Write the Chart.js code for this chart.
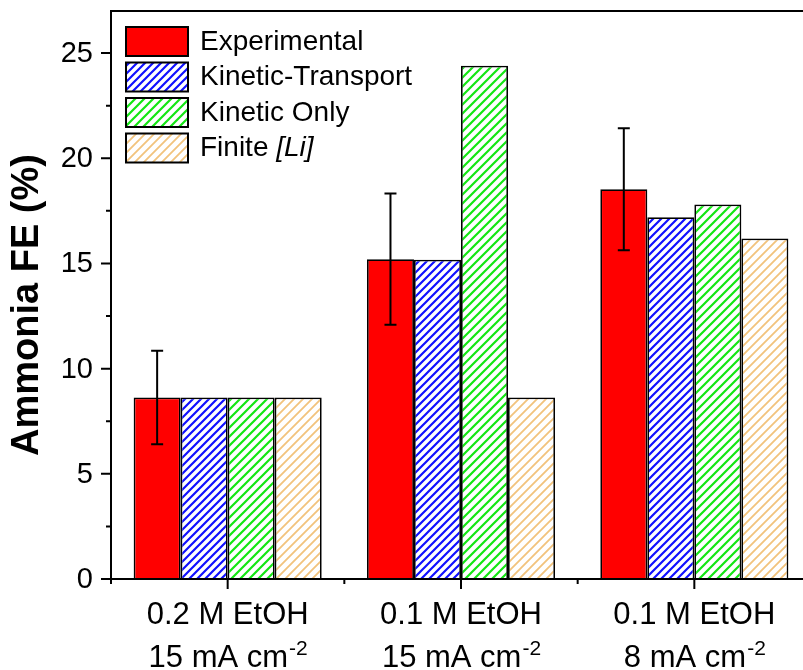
<!DOCTYPE html>
<html>
<head>
<meta charset="utf-8">
<script src="https://cdn.jsdelivr.net/npm/chart.js@4/dist/chart.umd.min.js"></script>
<style>
  html, body { margin: 0; padding: 0; background: #fff; overflow: hidden; }
  #wrap { width: 803px; height: 670px; overflow: hidden; }
</style>
</head>
<body>
<div id="wrap"><canvas id="fe" width="830" height="670"></canvas></div>
<script>
// conditions (two-line category labels, second line gets a "-2" superscript)
const conditionLabels = ['0.2 M EtOH', '0.1 M EtOH', '0.1 M EtOH'];
const currentLabels = ['15 mA cm', '15 mA cm', '8 mA cm'];
const currentSup = '-2';

const seriesNames = ['Experimental', 'Kinetic-Transport', 'Kinetic Only', 'Finite [Li]'];
const experimental = [8.63, 15.2, 18.53];
const experimentalErr = [2.22, 3.12, 2.9];
const kineticTransport = [8.63, 15.17, 17.2];
const kineticOnly = [8.63, 24.4, 17.8];
const finiteLi = [8.63, 8.63, 16.18];

const yTicksMajor = [0, 5, 10, 15, 20, 25];

const FONT = '"Liberation Sans", Arial, Helvetica, sans-serif';

function hatch(color, size, width) {
  const c = document.createElement('canvas');
  c.width = size; c.height = size;
  const g = c.getContext('2d');
  g.fillStyle = '#fff';
  g.fillRect(0, 0, size, size);
  g.strokeStyle = color;
  g.lineWidth = width;
  g.beginPath();
  g.moveTo(-1, size + 1); g.lineTo(size + 1, -1);
  g.moveTo(-size / 2 - 1, size / 2 + 1); g.lineTo(size / 2 + 1, -size / 2 - 1);
  g.moveTo(size / 2 - 1, size * 1.5 + 1); g.lineTo(size * 1.5 + 1, size / 2 - 1);
  g.stroke();
  return g.createPattern(c, 'repeat');
}

const fills = [
  '#ff0000',
  hatch('#1010ff', 8, 2.2),
  hatch('#14e614', 9, 2.2),
  hatch('#f2c37c', 9, 1.8),
];

// frame, outward ticks (major / minor), tick labels, legend
const axesDeco = {
  id: 'axesDeco',
  afterDraw(chart) {
    const { ctx, chartArea: a, scales: { x, y } } = chart;
    ctx.save();
    ctx.strokeStyle = '#000';
    ctx.lineWidth = 2;
    ctx.beginPath();
    ctx.moveTo(a.right, a.top); ctx.lineTo(a.left, a.top);
    ctx.lineTo(a.left, a.bottom); ctx.lineTo(a.right, a.bottom);
    ctx.stroke();
    ctx.beginPath();
    for (let v = 0; v <= y.max; v += 2.5) {
      const p = y.getPixelForValue(v);
      const len = v % 5 === 0 ? 10 : 5;
      ctx.moveTo(a.left - len, p); ctx.lineTo(a.left, p);
    }
    const n = conditionLabels.length;
    for (let i = 0; i < n; i++) {
      const p = x.getPixelForValue(i);
      ctx.moveTo(p, a.bottom); ctx.lineTo(p, a.bottom + 10);
    }
    for (let i = 0; i < n; i++) {
      const p = x.getPixelForValue(i - 0.5);
      ctx.moveTo(p, a.bottom); ctx.lineTo(p, a.bottom + 5);
    }
    ctx.stroke();

    ctx.fillStyle = '#000';
    // y tick labels
    ctx.font = '29px ' + FONT;
    ctx.textAlign = 'right';
    ctx.textBaseline = 'middle';
    yTicksMajor.forEach(v => ctx.fillText(String(v), a.left - 18, y.getPixelForValue(v) + 1));

    // category labels
    ctx.textBaseline = 'alphabetic';
    for (let i = 0; i < n; i++) {
      const cx = x.getPixelForValue(i);
      ctx.font = '31px ' + FONT;
      ctx.textAlign = 'center';
      ctx.fillText(conditionLabels[i], cx, a.bottom + 45);
      const w1 = ctx.measureText(currentLabels[i]).width;
      ctx.font = '21px ' + FONT;
      const w2 = ctx.measureText(currentSup).width;
      const x0 = cx - (w1 + w2) / 2;
      ctx.textAlign = 'left';
      ctx.font = '31px ' + FONT;
      ctx.fillText(currentLabels[i], x0, a.bottom + 88);
      ctx.font = '21px ' + FONT;
      ctx.fillText(currentSup, x0 + w1 + 1, a.bottom + 76);
    }

    // y title
    ctx.save();
    ctx.translate(28, (a.top + a.bottom) / 2 + 10);
    ctx.rotate(-Math.PI / 2);
    ctx.font = 'bold 38px ' + FONT;
    ctx.textAlign = 'center';
    ctx.textBaseline = 'middle';
    ctx.fillText('Ammonia FE (%)', 0, 0);
    ctx.restore();

    // legend inside plot
    chart.data.datasets.forEach((ds, i) => {
      const top = a.top + 16 + i * 35.5;
      const left = a.left + 15;
      ctx.fillStyle = ds.backgroundColor;
      ctx.fillRect(left, top, 62, 29);
      ctx.lineWidth = 2;
      ctx.strokeStyle = '#000';
      ctx.strokeRect(left, top, 62, 29);
      ctx.fillStyle = '#000';
      ctx.textAlign = 'left';
      ctx.textBaseline = 'middle';
      let tx = left + 74;
      const ty = top + 15;
      ds.label.split(/(\[.*?\])/).filter(Boolean).forEach(part => {
        ctx.font = (part.startsWith('[') ? 'italic ' : '') + '28px ' + FONT;
        ctx.fillText(part, tx, ty);
        tx += ctx.measureText(part).width;
      });
    });
    ctx.restore();
  },
  afterDatasetsDraw(chart) {
    const { ctx, scales: { y } } = chart;
    const meta = chart.getDatasetMeta(0);
    ctx.save();
    ctx.strokeStyle = '#000';
    ctx.lineWidth = 2;
    ctx.beginPath();
    experimental.forEach((v, i) => {
      const cx = meta.data[i].x;
      const hi = y.getPixelForValue(v + experimentalErr[i]);
      const lo = y.getPixelForValue(v - experimentalErr[i]);
      ctx.moveTo(cx, hi); ctx.lineTo(cx, lo);
      ctx.moveTo(cx - 6, hi); ctx.lineTo(cx + 6, hi);
      ctx.moveTo(cx - 6, lo); ctx.lineTo(cx + 6, lo);
    });
    ctx.stroke();
    ctx.restore();
  }
};

const seriesData = [experimental, kineticTransport, kineticOnly, finiteLi];

new Chart(document.getElementById('fe'), {
  type: 'bar',
  data: {
    labels: conditionLabels,
    datasets: seriesData.map((d, i) => ({
      label: seriesNames[i],
      data: d,
      backgroundColor: fills[i],
      borderColor: '#000',
      borderWidth: 1.75,
      categoryPercentage: 0.806,
      barPercentage: 1.0,
    })),
  },
  options: {
    responsive: false,
    animation: false,
    devicePixelRatio: 1,
    layout: { padding: { top: 11, right: 19, left: 0, bottom: 0 } },
    plugins: { legend: { display: false }, tooltip: { enabled: false } },
    scales: {
      x: {
        grid: { display: false, drawTicks: false },
        border: { display: false },
        ticks: { display: false },
        afterFit(s) { s.height = 91; },
      },
      y: {
        min: 0,
        max: 27,
        grid: { display: false, drawTicks: false },
        border: { display: false },
        ticks: { display: false, stepSize: 2.5 },
        afterFit(s) { s.width = 111; },
      },
    },
  },
  plugins: [axesDeco],
});
</script>
</body>
</html>
